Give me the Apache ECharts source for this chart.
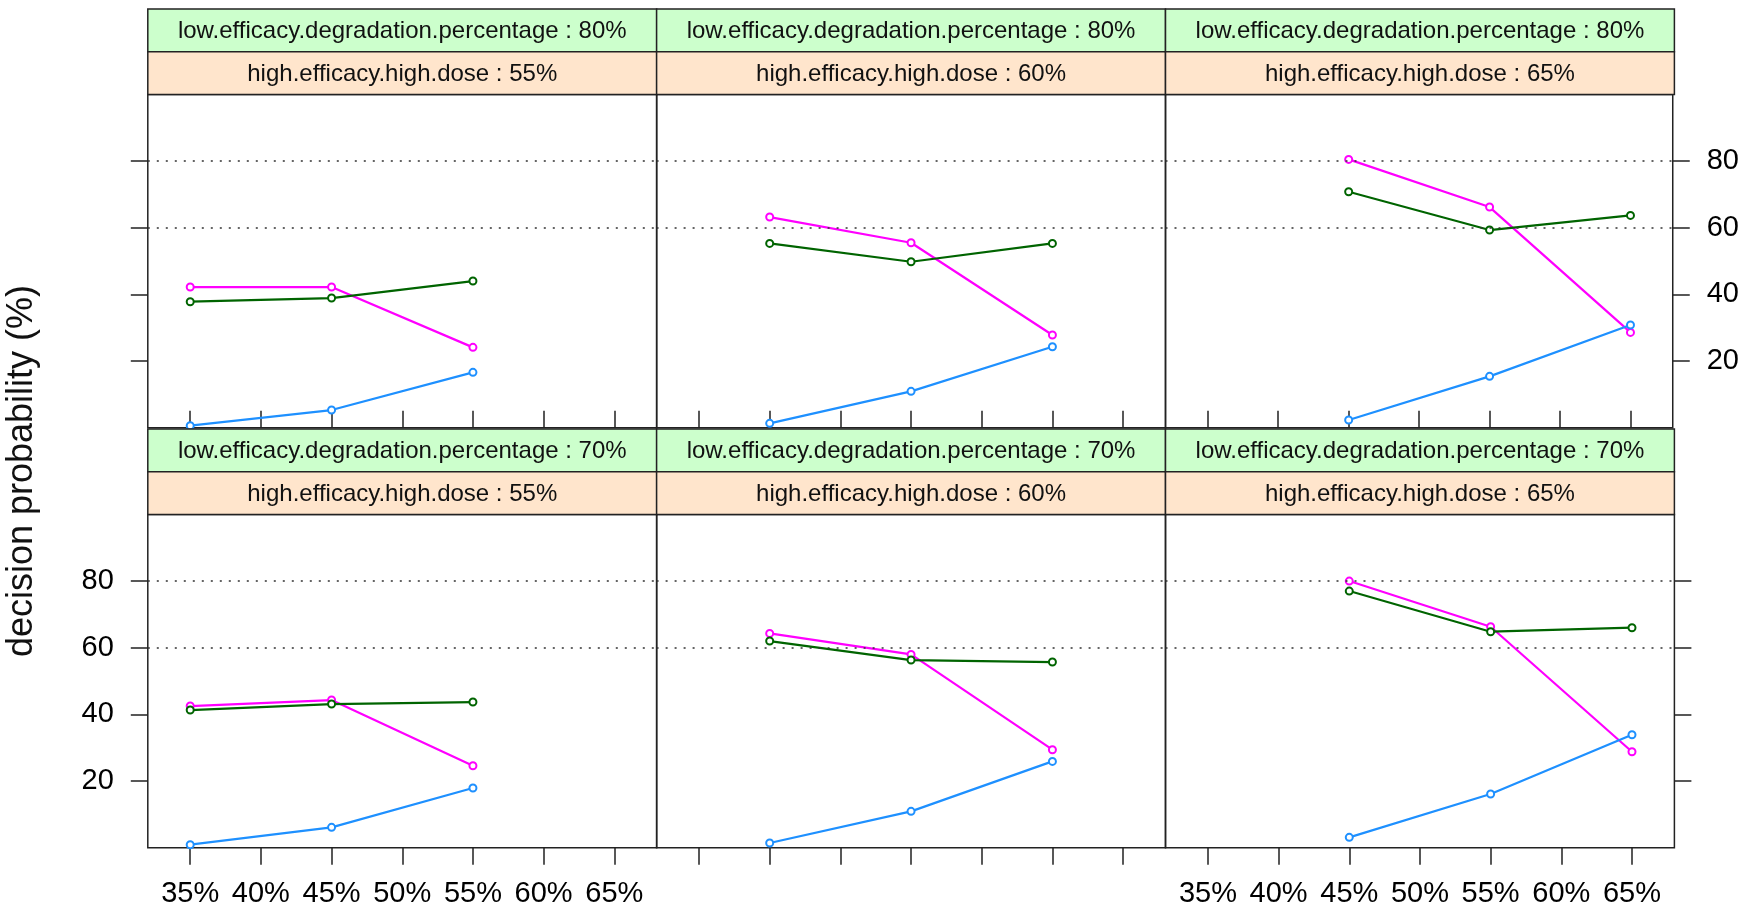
<!DOCTYPE html>
<html><head><meta charset="utf-8">
<script src="https://cdn.jsdelivr.net/npm/echarts@6/dist/echarts.min.js"></script>
<style>html,body{margin:0;padding:0;background:#fff}#c{width:1742px;height:909px}</style>
</head><body><div id="c"></div>
<script>
// ---- data ----
const doseLevels = ['55%', '60%', '65%'];            // high.efficacy.high.dose (columns)
const degradationLevels = ['80%', '70%'];           // low.efficacy.degradation.percentage (rows)
const xByDose = [[35, 45, 55], [40, 50, 60], [45, 55, 65]];
const xTicks = [35, 40, 45, 50, 55, 60, 65];
const xTickLabels = ['35%', '40%', '45%', '50%', '55%', '60%', '65%'];
const yTicks = [20, 40, 60, 80];
const refLines = [60, 80];
// panel order: row 80% (55,60,65), row 70% (55,60,65)
const magentaValues = [
  [42.2, 42.2, 24.1], [63.2, 55.5, 27.8], [80.5, 66.2, 28.6],
  [42.5, 44.3, 24.6], [64.3, 58.0, 29.4], [80.0, 66.3, 28.8]
];
const greenValues = [
  [37.8, 38.9, 44.0], [55.3, 49.8, 55.3], [70.8, 59.3, 63.7],
  [41.3, 43.1, 43.7], [62.0, 56.3, 55.7], [77.0, 64.8, 66.0]
];
const blueValues = [
  [0.6, 5.3, 16.6], [1.3, 10.9, 24.3], [2.3, 15.4, 30.8],
  [0.9, 6.1, 17.9], [1.4, 10.9, 25.9], [3.1, 16.1, 33.9]
];

// ---- layout ----
const FONT = '"Liberation Sans", Arial, Helvetica, sans-serif';
const colLeft = [147.8, 656.6, 1165.5];
const panelW = 508.9;
const rowTop = [94.4, 514.4];
const panelH = 333.3;
const stripH = 42.75;
const tickLabel = {};
xTicks.forEach((v, i) => tickLabel[v] = xTickLabels[i]);

const grids = [], xAxes = [], yAxes = [], series = [], graphics = [];
const seriesDefs = [
  { name: 'magenta', color: '#FF00FF', values: magentaValues },
  { name: 'green', color: '#006400', values: greenValues },
  { name: 'blue', color: '#1E90FF', values: blueValues }
];

for (let r = 0; r < 2; r++) {
  for (let c = 0; c < 3; c++) {
    const g = r * 3 + c;
    grids.push({
      left: colLeft[c], top: rowTop[r], width: panelW, height: panelH,
      show: true, borderColor: '#222', borderWidth: 1.5, backgroundColor: 'transparent'
    });
    const isTop = r === 0;
    xAxes.push({
      type: 'value', gridIndex: g, min: 32, max: 68,
      position: isTop ? 'top' : 'bottom',
      offset: isTop ? 2 * stripH : 0,
      splitLine: { show: false },
      axisLine: { show: false },
      axisTick: { show: true, inside: false, length: 17, customValues: xTicks,
        lineStyle: { color: '#222', width: 1.5 } },
      axisLabel: {
        show: !isTop && c !== 1, customValues: xTicks, margin: 32,
        formatter: v => tickLabel[v] || '', color: '#000', fontSize: 29, fontFamily: FONT
      }
    });
    const yShow = c !== 1;
    const yLabelShow = (r === 0 && c === 2) || (r === 1 && c === 0);
    yAxes.push({
      type: 'value', gridIndex: g, min: 0, max: 100,
      position: c === 2 ? 'right' : 'left',
      splitLine: { show: false },
      axisLine: { show: false },
      axisTick: { show: yShow, inside: false, length: 17, customValues: yTicks,
        lineStyle: { color: '#222', width: 1.5 } },
      axisLabel: { show: yLabelShow, customValues: yTicks, margin: 34,
        color: '#000', fontSize: 29, fontFamily: FONT }
    });
    // reference dotted lines
    series.push({
      type: 'line', xAxisIndex: g, yAxisIndex: g, data: [], silent: true, z: 1,
      markLine: {
        silent: true, symbol: ['none', 'none'], label: { show: false },
        lineStyle: { color: '#333', type: [2, 7], width: 1.5 },
        data: refLines.map(v => ({ yAxis: v }))
      }
    });
    seriesDefs.forEach(s => {
      series.push({
        name: s.name, type: 'line', xAxisIndex: g, yAxisIndex: g, z: 3,
        data: xByDose[c].map((x, i) => [x, s.values[g][i]]),
        symbol: 'emptyCircle', symbolSize: 7,
        lineStyle: { color: s.color, width: 2.2 },
        itemStyle: { color: s.color, borderColor: s.color, borderWidth: 1.6 },
        animation: false
      });
    });
    // strips
    const sTop = rowTop[r] - 2 * stripH;
    graphics.push({
      type: 'rect', shape: { x: colLeft[c], y: sTop, width: panelW, height: stripH },
      style: { fill: '#CCFFCC', stroke: '#222', lineWidth: 1.5 }, z: 10
    });
    graphics.push({
      type: 'text', x: colLeft[c] + panelW / 2, y: sTop + stripH / 2 + 1, z: 11,
      style: { text: 'low.efficacy.degradation.percentage : ' + degradationLevels[r],
        fill: '#111', font: '24px ' + FONT, textAlign: 'center', textVerticalAlign: 'middle' }
    });
    graphics.push({
      type: 'rect', shape: { x: colLeft[c], y: sTop + stripH, width: panelW, height: stripH },
      style: { fill: '#FFE5CC', stroke: '#222', lineWidth: 1.5 }, z: 10
    });
    graphics.push({
      type: 'text', x: colLeft[c] + panelW / 2, y: sTop + 1.5 * stripH + 1, z: 11,
      style: { text: 'high.efficacy.high.dose : ' + doseLevels[c],
        fill: '#111', font: '24px ' + FONT, textAlign: 'center', textVerticalAlign: 'middle' }
    });
  }
}
graphics.push({
  type: 'text', x: 22, y: 471, rotation: Math.PI / 2, z: 11,
  style: { text: 'decision probability (%)', fill: '#111', font: '36px ' + FONT,
    textAlign: 'center', textVerticalAlign: 'middle' }
});

const chart = echarts.init(document.getElementById('c'), null, { renderer: 'canvas' });
chart.setOption({
  animation: false,
  backgroundColor: '#fff',
  grid: grids, xAxis: xAxes, yAxis: yAxes, series: series, graphic: graphics
});
</script></body></html>
